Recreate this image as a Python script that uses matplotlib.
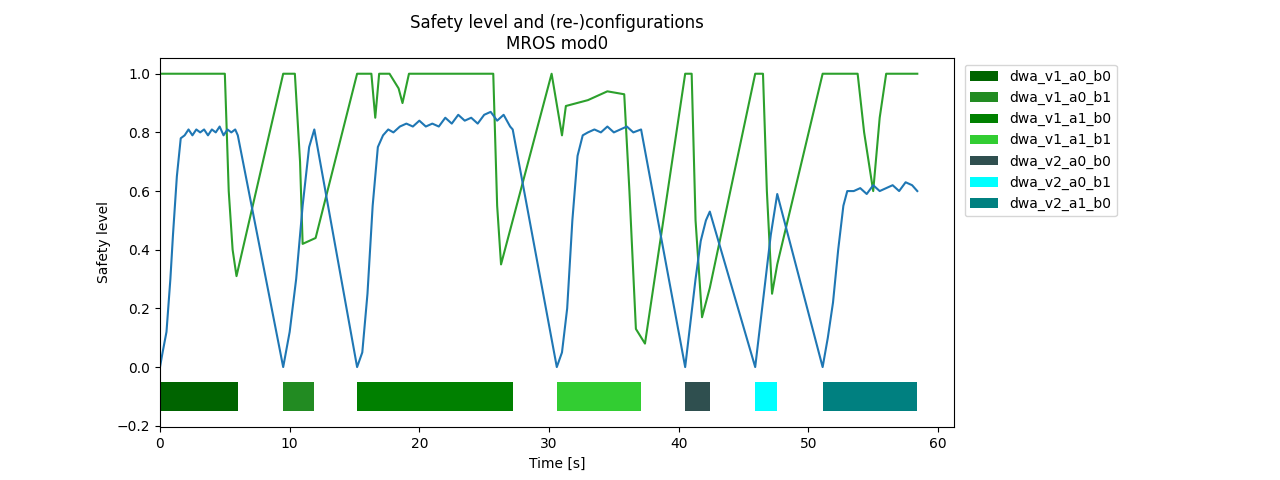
import matplotlib
matplotlib.use("Agg")
import matplotlib.pyplot as plt

config_names = ["dwa_v1_a0_b0", "dwa_v1_a0_b1", "dwa_v1_a1_b0", "dwa_v1_a1_b1",
                "dwa_v2_a0_b0", "dwa_v2_a0_b1", "dwa_v2_a1_b0"]
config_colors = ["darkgreen", "forestgreen", "green", "limegreen",
                 "darkslategray", "cyan", "teal"]
config_start = [0.0, 9.5, 15.2, 30.6, 40.5, 45.9, 51.1]
config_end = [6.0, 11.9, 27.2, 37.1, 42.4, 47.6, 58.4]

blue_t = [0, 0.2, 0.5, 0.8, 1.0, 1.3, 1.6, 1.9, 2.2, 2.5, 2.8, 3.1, 3.4, 3.7, 4.0, 4.3, 4.6, 4.9, 5.2, 5.5, 5.8, 6.0,
          9.5, 10.0, 10.5, 11.0, 11.5, 11.9,
          15.2, 15.6, 16.0, 16.4, 16.8, 17.2, 17.6, 18.0, 18.5, 19.0, 19.5, 20.0, 20.5, 21.0, 21.5, 22.0, 22.5,
          23.0, 23.5, 24.0, 24.5, 25.0, 25.5, 26.0, 26.5, 27.0, 27.2,
          30.6, 31.0, 31.4, 31.8, 32.2, 32.6, 33.0, 33.5, 34.0, 34.5, 35.0, 35.5, 36.0, 36.5, 37.1,
          40.5, 40.9, 41.3, 41.7, 42.1, 42.4,
          45.9, 46.3, 46.7, 47.1, 47.6,
          51.1, 51.5, 51.9, 52.3, 52.7, 53.0, 53.5, 54.0, 54.5, 55.0, 55.5, 56.0, 56.5, 57.0, 57.5, 58.0, 58.4]
blue_v = [0.0, 0.05, 0.12, 0.3, 0.45, 0.65, 0.78, 0.79, 0.81, 0.79, 0.81, 0.80, 0.81, 0.79, 0.81, 0.80, 0.82, 0.79, 0.81, 0.80, 0.81, 0.79,
          0.0, 0.12, 0.3, 0.55, 0.75, 0.81,
          0.0, 0.05, 0.25, 0.55, 0.75, 0.79, 0.81, 0.80, 0.82, 0.83, 0.82, 0.84, 0.82, 0.83, 0.82, 0.85, 0.83,
          0.86, 0.84, 0.85, 0.83, 0.86, 0.87, 0.84, 0.86, 0.82, 0.81,
          0.0, 0.05, 0.2, 0.5, 0.72, 0.79, 0.80, 0.81, 0.80, 0.82, 0.80, 0.81, 0.82, 0.80, 0.81,
          0.0, 0.15, 0.3, 0.43, 0.50, 0.53,
          0.0, 0.15, 0.3, 0.45, 0.59,
          0.0, 0.1, 0.22, 0.4, 0.55, 0.60, 0.60, 0.61, 0.59, 0.62, 0.60, 0.61, 0.62, 0.60, 0.63, 0.62, 0.60]

green_t = [0, 5.0, 5.3, 5.6, 5.9, 9.5, 10.4, 10.8, 11.0, 12.0, 15.2, 16.3, 16.6, 16.9, 17.7, 18.4, 18.7, 19.2,
           25.7, 26.0, 26.3, 30.2, 31.0, 31.3, 33.0, 34.5, 35.8, 36.2, 36.7, 37.4, 40.5, 41.0, 41.3, 41.8, 42.4,
           45.9, 46.5, 46.8, 47.2, 47.6, 51.1, 53.8, 54.3, 55.0, 55.5, 56.0, 58.4]
green_v = [1.0, 1.0, 0.6, 0.4, 0.31, 1.0, 1.0, 0.7, 0.42, 0.44, 1.0, 1.0, 0.85, 1.0, 1.0, 0.95, 0.9, 1.0,
           1.0, 0.55, 0.35, 1.0, 0.79, 0.89, 0.91, 0.94, 0.93, 0.6, 0.13, 0.08, 1.0, 1.0, 0.5, 0.17, 0.27,
           1.0, 1.0, 0.6, 0.25, 0.35, 1.0, 1.0, 0.8, 0.6, 0.85, 1.0, 1.0]

fig = plt.figure(figsize=(12.8, 4.8), dpi=100)
ax = fig.add_axes([0.125, 0.11, 0.62, 0.77])
for n, c, s, e in zip(config_names, config_colors, config_start, config_end):
    ax.barh(-0.1, e - s, left=s, height=0.1, color=c, label=n)
ax.plot(green_t, green_v, color="tab:green")
ax.plot(blue_t, blue_v, color="tab:blue")
ax.set_xlim(0, 61.2)
ax.set_ylim(-0.205, 1.055)
ax.set_xlabel("Time [s]")
ax.set_ylabel("Safety level")
ax.set_title("Safety level and (re-)configurations\nMROS mod0")
ax.legend(loc="upper left", bbox_to_anchor=(1.005, 1.0))
fig.savefig("out.png")
